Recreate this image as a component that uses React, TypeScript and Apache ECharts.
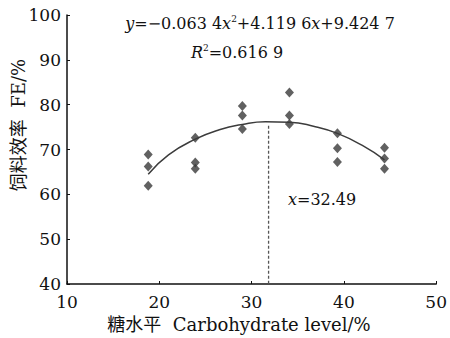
import React, { useEffect, useRef } from "react";
import * as echarts from "echarts";

const xTicks = [10, 20, 30, 40, 50];
const yTicks = [40, 50, 60, 70, 80, 90, 100];

// observed points: carbohydrate level (%) and feed efficiency (%)
const pointX = [18.8, 18.8, 18.8, 23.9, 23.9, 23.9, 29.0, 29.0, 29.0, 34.1, 34.1, 34.1, 39.3, 39.3, 39.3, 44.4, 44.4, 44.4];
const pointY = [68.9, 66.2, 61.9, 72.6, 67.1, 65.7, 79.7, 77.6, 74.6, 82.7, 77.6, 75.7, 73.6, 70.3, 67.2, 70.4, 68.0, 65.7];

// fitted curve
const curveX = [18.8, 21.0, 23.9, 26.5, 29.0, 31.5, 34.1, 36.7, 39.3, 42.0, 44.4];
const curveY = [64.5, 68.8, 72.3, 74.4, 75.6, 76.2, 76.1, 75.2, 73.6, 70.9, 67.7];

// optimum line
const optX = [31.84, 31.84];
const optY = [75.3, 40];

const equationText = "{i|y}=−0.063 4{i|x}{sup|2}+4.119 6{i|x}+9.424 7";
const r2Text = "{i|R}{sup|2}=0.616 9";
const optText = "{i|x}=32.49";
const yName = "饲料效率  FE/%";
const xName = "糖水平  Carbohydrate level/%";

const FONT = "'DejaVu Serif', 'Noto Sans CJK SC', serif";
const INK = "#111111";

export default function App() {
  const ref = useRef<HTMLDivElement>(null);
  useEffect(() => {
    if (!ref.current) return;
    const chart = echarts.init(ref.current, undefined, { renderer: "svg" });
    const rich = {
      i: { fontStyle: "italic", fontFamily: FONT, fontSize: 16, fill: INK },
      sup: { fontSize: 9, fontFamily: FONT, padding: [0, 0, 9, 0], fill: INK },
    };
    chart.setOption({
      animation: false,
      backgroundColor: "#ffffff",
      grid: { left: 67, right: 13, top: 15, bottom: 54, containLabel: false },
      xAxis: {
        type: "value",
        min: xTicks[0],
        max: xTicks[xTicks.length - 1],
        interval: 10,
        splitLine: { show: false },
        axisLine: { onZero: false, lineStyle: { color: "#111", width: 1.5 } },
        axisTick: { inside: true, length: 3, lineStyle: { color: "#111" } },
        axisLabel: { color: INK, fontFamily: FONT, fontSize: 17, margin: 9 },
      },
      yAxis: {
        type: "value",
        min: yTicks[0],
        max: yTicks[yTicks.length - 1],
        interval: 10,
        splitLine: { show: false },
        axisLine: { show: true, onZero: false, lineStyle: { color: "#111", width: 1.5 } },
        axisTick: { show: true, inside: true, length: 3, lineStyle: { color: "#111" } },
        axisLabel: { color: INK, fontFamily: FONT, fontSize: 17, margin: 6 },
      },
      series: [
        {
          type: "line",
          data: curveX.map((x, i) => [x, curveY[i]]),
          smooth: 0.5,
          showSymbol: false,
          lineStyle: { color: "#3c3c3c", width: 1.5 },
          z: 2,
        },
        {
          type: "line",
          data: optX.map((x, i) => [x, optY[i]]),
          showSymbol: false,
          lineStyle: { color: "#555", width: 1.3, type: [3, 2] },
          z: 1,
        },
        {
          type: "scatter",
          data: pointX.map((x, i) => [x, pointY[i]]),
          symbol: "diamond",
          symbolSize: [9, 10],
          itemStyle: { color: "#3a3a3a" },
          z: 3,
        },
      ],
      graphic: [
        {
          type: "text",
          x: 260,
          y: 23,
          style: {
            text: equationText,
            rich,
            fontFamily: FONT,
            fontSize: 16,
            fill: INK,
            align: "center",
            verticalAlign: "middle",
          },
        },
        {
          type: "text",
          x: 237,
          y: 52,
          style: {
            text: r2Text,
            rich,
            fontFamily: FONT,
            fontSize: 16,
            fill: INK,
            align: "center",
            verticalAlign: "middle",
          },
        },
        {
          type: "text",
          x: 288,
          y: 199,
          style: {
            text: optText,
            rich,
            fontFamily: FONT,
            fontSize: 16,
            fill: INK,
            align: "left",
            verticalAlign: "middle",
          },
        },
        {
          type: "text",
          x: 18,
          y: 125,
          rotation: Math.PI / 2,
          style: {
            text: yName,
            fontFamily: FONT,
            fontSize: 18,
            fill: INK,
            align: "center",
            verticalAlign: "middle",
          },
        },
        {
          type: "text",
          x: 239,
          y: 324,
          style: {
            text: xName,
            fontFamily: FONT,
            fontSize: 18,
            fill: INK,
            align: "center",
            verticalAlign: "middle",
          },
        },
      ],
    });
    return () => chart.dispose();
  }, []);
  return <div ref={ref} style={{ width: 450, height: 338, position: "absolute", left: 0, top: 0 }} />;
}
